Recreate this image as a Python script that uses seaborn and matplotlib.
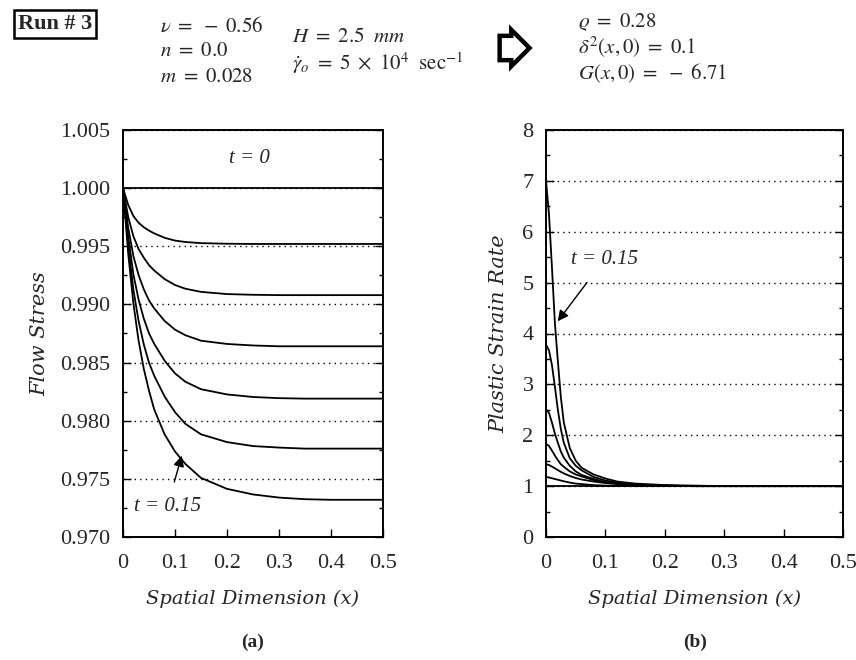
"""
Run #3: flow stress and plastic strain rate profiles along the spatial
dimension, for seven times from t = 0 up to t = 0.15.
"""

import matplotlib
matplotlib.use("Agg")
import matplotlib.pyplot as plt
from matplotlib.ticker import MultipleLocator
import seaborn as sns

sns.set_style("ticks")
plt.rcParams['font.family'] = ['Liberation Serif', 'DejaVu Serif']
plt.rcParams['mathtext.fontset'] = 'stix'

# ---- data ----
# (a) flow stress, one list per time step (t = 0 ... 0.15)
x_stress = [0, 0.01, 0.02, 0.03, 0.04, 0.05, 0.06, 0.08, 0.10, 0.12,
            0.15, 0.20, 0.25, 0.30, 0.35, 0.40, 0.50]
stress_t0 = [1.0, 1.0, 1.0, 1.0, 1.0, 1.0, 1.0, 1.0, 1.0, 1.0,
             1.0, 1.0, 1.0, 1.0, 1.0, 1.0, 1.0]
stress_t1 = [1.0, 0.99856, 0.99760, 0.99702, 0.99664, 0.99635, 0.99611, 0.99573, 0.99549, 0.99537,
             0.99527, 0.99522, 0.9952, 0.9952, 0.9952, 0.9952, 0.9952]
stress_t2 = [1.0, 0.99752, 0.99586, 0.99476, 0.99402, 0.99338, 0.99292, 0.99218, 0.99167, 0.99135,
             0.99108, 0.99089, 0.99083, 0.9908, 0.9908, 0.9908, 0.9908]
stress_t3 = [1.0, 0.99660, 0.99415, 0.99252, 0.99130, 0.99034, 0.98966, 0.98858, 0.98783, 0.98735,
             0.98688, 0.98660, 0.98647, 0.9864, 0.9864, 0.9864, 0.9864]
stress_t4 = [1.0, 0.99584, 0.99258, 0.99041, 0.98878, 0.98751, 0.98661, 0.98516, 0.98407, 0.98335,
             0.98271, 0.98226, 0.98204, 0.98194, 0.9819, 0.9819, 0.9819]
stress_t5 = [1.0, 0.99507, 0.99126, 0.98858, 0.98656, 0.98499, 0.98387, 0.98208, 0.98074, 0.97973,
             0.97883, 0.97816, 0.97782, 0.97769, 0.9776, 0.9776, 0.9776]
stress_t6 = [1.0, 0.99437, 0.99008, 0.98687, 0.98446, 0.98258, 0.98097, 0.97883, 0.97735, 0.97628,
             0.97508, 0.97414, 0.97366, 0.97339, 0.97325, 0.9732, 0.9732]
stress_curves = [stress_t0, stress_t1, stress_t2, stress_t3, stress_t4, stress_t5, stress_t6]

# (b) plastic strain rate, same time steps
x_rate = [0, 0.005, 0.01, 0.015, 0.02, 0.025, 0.03, 0.04, 0.05, 0.06,
          0.08, 0.10, 0.12, 0.15, 0.20, 0.25, 0.30, 0.40, 0.50]
rate_t0 = [1.0, 1.0, 1.0, 1.0, 1.0, 1.0, 1.0, 1.0, 1.0, 1.0,
           1.0, 1.0, 1.0, 1.0, 1.0, 1.0, 1.0, 1.0, 1.0]
rate_t1 = [1.18, 1.17, 1.155, 1.14, 1.125, 1.11, 1.095, 1.07, 1.05, 1.04,
           1.02, 1.01, 1.005, 1.0, 1.0, 1.0, 1.0, 1.0, 1.0]
rate_t2 = [1.43, 1.415, 1.385, 1.35, 1.315, 1.28, 1.25, 1.20, 1.16, 1.13,
           1.09, 1.06, 1.04, 1.02, 1.005, 1.0, 1.0, 1.0, 1.0]
rate_t3 = [1.83, 1.79, 1.70, 1.60, 1.51, 1.43, 1.38, 1.29, 1.23, 1.19,
           1.12, 1.08, 1.055, 1.03, 1.01, 1.0, 1.0, 1.0, 1.0]
rate_t4 = [2.51, 2.44, 2.25, 2.03, 1.85, 1.68, 1.56, 1.40, 1.29, 1.22,
           1.14, 1.08, 1.05, 1.025, 1.01, 1.0, 1.0, 1.0, 1.0]
rate_t5 = [3.78, 3.67, 3.38, 2.95, 2.50, 2.12, 1.85, 1.55, 1.40, 1.31,
           1.18, 1.11, 1.07, 1.035, 1.01, 1.0, 1.0, 1.0, 1.0]
rate_t6 = [7.0, 6.35, 5.30, 4.20, 3.45, 2.75, 2.25, 1.75, 1.50, 1.36,
           1.23, 1.15, 1.09, 1.05, 1.02, 1.01, 1.0, 1.0, 1.0]
rate_curves = [rate_t0, rate_t1, rate_t2, rate_t3, rate_t4, rate_t5, rate_t6]

x_ticks = [0, 0.1, 0.2, 0.3, 0.4, 0.5]
x_tick_labels = ['0', '0.1', '0.2', '0.3', '0.4', '0.5']
stress_ticks = [0.970, 0.975, 0.980, 0.985, 0.990, 0.995, 1.000, 1.005]
stress_tick_labels = ['0.970', '0.975', '0.980', '0.985', '0.990', '0.995', '1.000', '1.005']
rate_ticks = [0, 1, 2, 3, 4, 5, 6, 7, 8]
rate_tick_labels = ['0', '1', '2', '3', '4', '5', '6', '7', '8']

W, H = 856, 660


def px(x, y):
    """pixel position (from top-left) -> figure fraction"""
    return x / W, 1 - y / H


def style_axes(ax, yticks, ylabels, ystep):
    ax.set_xlim(0, 0.5)
    ax.set_xticks(x_ticks)
    ax.set_xticklabels(x_tick_labels)
    ax.set_yticks(yticks)
    ax.set_yticklabels(ylabels)
    ax.yaxis.set_minor_locator(MultipleLocator(ystep / 2))
    ax.tick_params(which='both', direction='in', right=True, top=False,
                   labelsize=16, width=1, color='k')
    ax.tick_params(which='major', length=6)
    ax.tick_params(which='minor', length=3)
    ax.tick_params(axis='y', pad=9)
    ax.tick_params(axis='x', pad=12)
    ax.yaxis.grid(True, which='major', linestyle=(0, (1, 3)), color='k', lw=1)
    for sp in ax.spines.values():
        sp.set_linewidth(1.4)
        sp.set_color('k')
    ax.set_xlabel('Spatial Dimension (x)', fontsize=14, style='italic',
                  family='DejaVu Serif', labelpad=12)


fig = plt.figure(figsize=(W / 100, H / 100), dpi=100)
ax_a = fig.add_axes([123 / W, 1 - 537 / H, 260 / W, 407 / H])
ax_b = fig.add_axes([546 / W, 1 - 537 / H, 297 / W, 407 / H])

t_font = dict(fontsize=15, style='italic', family='Liberation Serif')
arrow = dict(arrowstyle='-|>', color='k', lw=1, mutation_scale=16, shrinkA=9, shrinkB=0)

# (a) flow stress
for ys in stress_curves:
    sns.lineplot(x=x_stress, y=ys, ax=ax_a, color='k', lw=1.3,
                 estimator=None, sort=False)
ax_a.set_ylim(0.970, 1.005)
style_axes(ax_a, stress_ticks, stress_tick_labels, 0.005)
ax_a.set_ylabel('Flow Stress', fontsize=15, style='italic',
                family='DejaVu Serif', labelpad=8)
ax_a.text(0.244, 1.0017, 't = 0', ha='center', va='bottom', **t_font)
ax_a.annotate('t = 0.15', xy=(0.113, 0.97699), xytext=(0.085, 0.9726),
              ha='center', va='center', arrowprops=arrow, **t_font)

# (b) plastic strain rate
for ys in rate_curves:
    sns.lineplot(x=x_rate, y=ys, ax=ax_b, color='k', lw=1.3,
                 estimator=None, sort=False)
ax_b.set_ylim(0, 8)
style_axes(ax_b, rate_ticks, rate_tick_labels, 1)
ax_b.set_ylabel('Plastic Strain Rate', fontsize=15, style='italic',
                family='DejaVu Serif', labelpad=10)
ax_b.annotate('t = 0.15', xy=(0.0197, 4.24), xytext=(0.098, 5.45),
              ha='center', va='center', arrowprops=arrow, **t_font)

# panel letters
fig.text(*px(253, 642), '(a)', fontsize=14, weight='bold', ha='center', va='center')
fig.text(*px(695, 642), '(b)', fontsize=14, weight='bold', ha='center', va='center')

# header: run number and parameters
fig.text(*px(55, 24), 'Run # 3', fontsize=16, weight='bold', ha='center', va='center',
         bbox=dict(boxstyle='square,pad=0.18', fc='white', ec='k', lw=1.8))
hdr = dict(fontsize=15, ha='left', va='center')
fig.text(*px(160, 27), r'$\nu\ =\ -\ 0.56$', **hdr)
fig.text(*px(160, 52), r'$n\ =\ 0.0$', **hdr)
fig.text(*px(160, 77), r'$m\ =\ 0.028$', **hdr)
fig.text(*px(292, 38), r'$H\ =\ 2.5\ \ mm$', **hdr)
fig.text(*px(292, 63), r'$\dot{\gamma}_o\ =\ 5\ \times\ 10^4\ \ \mathrm{sec}^{-1}$', **hdr)
fig.text(*px(510, 48), '   ', fontsize=12, ha='center', va='center',
         bbox=dict(boxstyle='rarrow,pad=0.25', fc='white', ec='k', lw=3.2))
fig.text(*px(578, 22), r'$\varrho\ =\ 0.28$', **hdr)
fig.text(*px(578, 47), r'$\delta^2(x,0)\ =\ 0.1$', **hdr)
fig.text(*px(578, 73), r'$G(x,0)\ =\ -\ 6.71$', **hdr)

fig.savefig('out.png', dpi=100)
